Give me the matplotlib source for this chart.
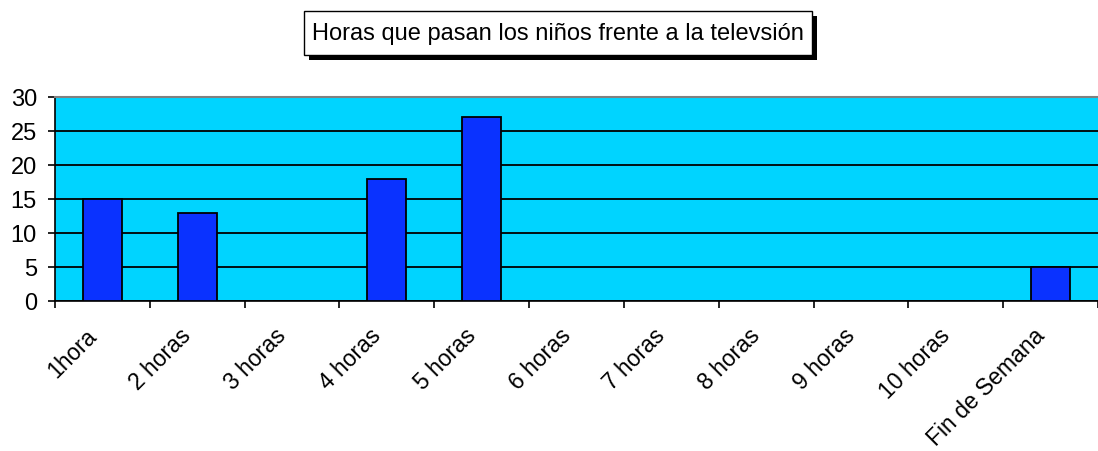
import numpy as np
import matplotlib
matplotlib.use('Agg')
from matplotlib import pyplot as plt
from matplotlib.patches import Rectangle

categories = ['1hora', '2 horas', '3 horas', '4 horas', '5 horas', '6 horas',
              '7 horas', '8 horas', '9 horas', '10 horas', 'Fin de Semana']
values = [15, 13, 0, 18, 27, 0, 0, 0, 0, 0, 5]
y_ticks = [0, 5, 10, 15, 20, 25, 30]
title = 'Horas que pasan los niños frente a la televsión'

plt.rcParams['font.family'] = ['Liberation Sans', 'DejaVu Sans']

W, H = 1098, 452
fig = plt.figure(figsize=(W / 100, H / 100), dpi=100)
fig.patch.set_facecolor('white')

# ejes en pixeles
left, right, top, bottom = 55, 1098, 98, 302
ax = fig.add_axes([left / W, (H - bottom) / H, (right - left) / W, (bottom - top) / H])
ax.set_facecolor('#00D4FF')

n = len(categories)
x = np.arange(n) + 0.5
ax.set_axisbelow(True)
ax.yaxis.grid(True, color='black', linewidth=1.3)
ax.bar(x, values, width=0.41, color='#0A32FF', edgecolor='black', linewidth=1.3, zorder=3)

ax.set_xlim(0, (right - left) / 95)
ax.set_ylim(0, 30)
ax.set_yticks(y_ticks)
ax.tick_params(axis='y', length=5, width=1.2, pad=8, labelsize=17, direction='out')

# ticks entre categorias, etiquetas un poco a la izquierda del centro
ax.set_xticks(np.arange(n + 1))
ax.set_xticklabels([])
ax.set_xticks(x - 0.1, minor=True)
ax.set_xticklabels(categories, minor=True, rotation=45, ha='right', va='center',
                   rotation_mode='anchor', fontsize=16.5)
ax.tick_params(axis='x', which='major', length=5, width=1.2, direction='out')
ax.tick_params(axis='x', which='minor', length=0, pad=22)

ax.spines['top'].set_color('#808080')
ax.spines['top'].set_linewidth(1.5)
ax.spines['right'].set_visible(False)
ax.spines['left'].set_linewidth(1.2)
ax.spines['bottom'].set_linewidth(1.2)

# caja del titulo con sombra
bx0, by0, bx1, by1 = 304, 12, 812, 56
fig.patches.append(Rectangle(((bx0 + 5) / W, 1 - (by1 + 5) / H), (bx1 - bx0) / W, (by1 - by0) / H,
                             transform=fig.transFigure, facecolor='black', edgecolor='none'))
fig.patches.append(Rectangle((bx0 / W, 1 - by1 / H), (bx1 - bx0) / W, (by1 - by0) / H,
                             transform=fig.transFigure, facecolor='white', edgecolor='black',
                             linewidth=1))
fig.text((bx0 + bx1) / 2 / W, 1 - (by0 + by1) / 2 / H, title, ha='center', va='center', fontsize=17)

plt.savefig('out.png', dpi=100)
